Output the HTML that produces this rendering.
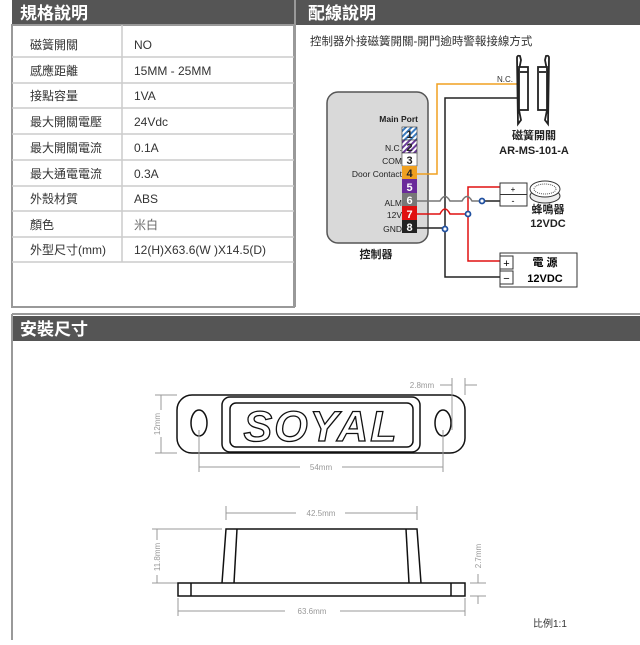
<!DOCTYPE html>
<html><head><meta charset="utf-8"><style>
body{margin:0;background:#fff;width:640px;height:640px;overflow:hidden}
svg text{font-family:"Liberation Sans","Noto Sans CJK TC",sans-serif}
</style></head><body>
<svg width="640" height="640" viewBox="0 0 640 640" xmlns="http://www.w3.org/2000/svg">
<defs>
<pattern id="hb" width="4" height="4" patternUnits="userSpaceOnUse" patternTransform="rotate(45)"><rect width="4" height="4" fill="#fff"/><rect width="2" height="4" fill="#3a7bbf"/></pattern>
<pattern id="hp" width="4" height="4" patternUnits="userSpaceOnUse" patternTransform="rotate(45)"><rect width="4" height="4" fill="#fff"/><rect width="2" height="4" fill="#6a3a9a"/></pattern>
</defs>
<rect x="12" y="0" width="628" height="25" fill="#555"/>
<rect x="294" y="0" width="2" height="25" fill="#999"/>
<text x="20" y="19" font-size="17" fill="#fff" font-weight="bold">規格說明</text>
<text x="308" y="19" font-size="17" fill="#fff" font-weight="bold">配線說明</text>
<rect x="12" y="25" width="282" height="282" fill="none" stroke="#999" stroke-width="2"/>
<line x1="295" y1="25" x2="295" y2="307" stroke="#999" stroke-width="2"/>
<g stroke="#ccc" stroke-width="1.5">
<line x1="12" y1="57" x2="294" y2="57"/><line x1="12" y1="83" x2="294" y2="83"/>
<line x1="12" y1="108" x2="294" y2="108"/><line x1="12" y1="134" x2="294" y2="134"/>
<line x1="12" y1="160" x2="294" y2="160"/><line x1="12" y1="186" x2="294" y2="186"/>
<line x1="12" y1="211" x2="294" y2="211"/><line x1="12" y1="237" x2="294" y2="237"/>
<line x1="12" y1="262" x2="294" y2="262"/>
<line x1="122" y1="25" x2="122" y2="262"/>
</g>
<g font-size="12" fill="#333">
<text x="30" y="49">磁簧開關</text><text x="134" y="49">NO</text>
<text x="30" y="75">感應距離</text><text x="134" y="75">15MM -  25MM</text>
<text x="30" y="100">接點容量</text><text x="134" y="100">1VA</text>
<text x="30" y="126">最大開關電壓</text><text x="134" y="126">24Vdc</text>
<text x="30" y="152">最大開關電流</text><text x="134" y="152">0.1A</text>
<text x="30" y="178">最大通電電流</text><text x="134" y="178">0.3A</text>
<text x="30" y="203">外殼材質</text><text x="134" y="203">ABS</text>
<text x="30" y="229">顏色</text><text x="134" y="229" fill="#666">米白</text>
<text x="30" y="254">外型尺寸(mm)</text><text x="134" y="254">12(H)X63.6(W )X14.5(D)</text>
</g>
<text x="310" y="45" font-size="11.5" fill="#333">控制器外接磁簧開關-開門逾時警報接線方式</text>
<rect x="327" y="92" width="101" height="151" rx="11" fill="#d9d9d9" stroke="#555" stroke-width="1.5"/>
<g font-size="8.5" fill="#222" text-anchor="end">
<text x="418" y="122" font-weight="bold">Main Port</text>
<text x="402" y="151">N.C.</text><text x="402" y="164">COM</text><text x="402" y="177">Door Contact</text>
<text x="402" y="206">ALM</text><text x="402" y="218">12V</text><text x="402" y="232">GND</text>
</g>
<rect x="402" y="127" width="15" height="13" fill="url(#hb)" stroke="#333" stroke-width=".6"/>
<rect x="402" y="140" width="15" height="13" fill="url(#hp)" stroke="#333" stroke-width=".6"/>
<rect x="402" y="153" width="15" height="13" fill="#fff" stroke="#333" stroke-width=".6"/>
<rect x="402" y="166" width="15" height="13" fill="#f0a020"/>
<rect x="402" y="179" width="15" height="14" fill="#6a2a9a"/>
<rect x="402" y="193" width="15" height="13" fill="#777"/>
<rect x="402" y="206" width="15" height="14" fill="#e01010"/>
<rect x="402" y="220" width="15" height="13" fill="#222"/>
<g font-size="11" font-weight="bold" text-anchor="middle">
<text x="409.5" y="138" fill="#222">1</text><text x="409.5" y="151" fill="#222">2</text><text x="409.5" y="164" fill="#222">3</text>
<text x="409.5" y="177" fill="#222">4</text><text x="409.5" y="191" fill="#fff">5</text><text x="409.5" y="204" fill="#fff">6</text>
<text x="409.5" y="218" fill="#fff">7</text><text x="409.5" y="231" fill="#fff">8</text>
</g>
<text x="376" y="258" font-size="11" font-weight="bold" fill="#222" text-anchor="middle">控制器</text>
<polyline points="417,174 437,174 437,84 517,84" fill="none" stroke="#f0a020" stroke-width="1.5"/>
<polyline points="517,98 445,98 445,277 500,277" fill="none" stroke="#222" stroke-width="1.5"/>
<line x1="417" y1="228" x2="445" y2="228" stroke="#222" stroke-width="1.5"/>
<path d="M417,214 L440,214 Q445,204 450,214 L468,214" fill="none" stroke="#e01010" stroke-width="1.5"/>
<polyline points="500,187 468,187 468,261 500,261" fill="none" stroke="#e01010" stroke-width="1.5"/>
<path d="M417,201 L440,201 Q445,192 450,201 L462,201 Q467,192 472,201 L482,201" fill="none" stroke="#777" stroke-width="1.5"/>
<line x1="482" y1="201" x2="500" y2="201" stroke="#222" stroke-width="1.5"/>
<g fill="#fff" stroke="#2050a0" stroke-width="1.8">
<circle cx="445" cy="229" r="2.5"/><circle cx="468" cy="214" r="2.5"/><circle cx="482" cy="201" r="2.5"/></g>
<rect x="500" y="183" width="27" height="23" fill="#fff" stroke="#333"/>
<line x1="500" y1="194.5" x2="527" y2="194.5" stroke="#333"/>
<text x="513" y="192" font-size="8" text-anchor="middle">+</text>
<text x="513" y="204" font-size="9" text-anchor="middle">-</text>
<ellipse cx="545" cy="196" rx="15" ry="7" fill="#eee" stroke="#333"/>
<ellipse cx="545" cy="189" rx="15" ry="8" fill="#fff" stroke="#333"/>
<ellipse cx="545" cy="189" rx="11" ry="5" fill="none" stroke="#555" stroke-dasharray="1 1"/>
<text x="548" y="213" font-size="11" font-weight="bold" fill="#222" text-anchor="middle">蜂鳴器</text>
<text x="548" y="227" font-size="11" font-weight="bold" fill="#222" text-anchor="middle">12VDC</text>
<rect x="500" y="253" width="77" height="34" fill="#fff" stroke="#333"/>
<rect x="500" y="256" width="13" height="13" fill="#fff" stroke="#333"/>
<rect x="500" y="271" width="13" height="13" fill="#fff" stroke="#333"/>
<text x="506.5" y="267" font-size="11" text-anchor="middle">+</text>
<text x="506.5" y="282" font-size="11" text-anchor="middle">−</text>
<text x="545" y="266" font-size="11" font-weight="bold" text-anchor="middle">電  源</text>
<text x="545" y="282" font-size="11" font-weight="bold" text-anchor="middle">12VDC</text>
<text x="497" y="82" font-size="8" fill="#333">N.C.</text>
<g fill="#fff" stroke="#222" stroke-width="1.8">
<path d="M517,58 Q517,55 520,56 L521,60 L519,70 L519,110 L521,120 L518,124 Z"/>
<rect x="519" y="67" width="9" height="43"/>
<path d="M549,58 Q549,55 546,56 L545,60 L547,70 L547,110 L545,120 L548,124 Z"/>
<rect x="538" y="67" width="9" height="43"/>
<line x1="520" y1="72" x2="528" y2="72"/><line x1="539" y1="72" x2="546" y2="72"/>
</g>
<text x="534" y="139" font-size="11" font-weight="bold" fill="#222" text-anchor="middle">磁簧開關</text>
<text x="534" y="154" font-size="11" font-weight="bold" fill="#222" text-anchor="middle">AR-MS-101-A</text>
<line x1="12" y1="314" x2="640" y2="314" stroke="#999" stroke-width="2"/>
<rect x="12" y="316" width="628" height="25" fill="#555"/>
<line x1="12" y1="314" x2="12" y2="640" stroke="#999" stroke-width="2"/>
<text x="20" y="335" font-size="17" fill="#fff" font-weight="bold">安裝尺寸</text>
<g fill="none" stroke="#111" stroke-width="1.5">
<rect x="177" y="395" width="288" height="58" rx="15"/>
<ellipse cx="199" cy="423" rx="8" ry="13"/><ellipse cx="443" cy="423" rx="8" ry="13"/>
<rect x="222" y="397" width="198" height="55" rx="8"/>
<rect x="230" y="403" width="183" height="44" rx="6"/>
</g>
<text x="321" y="441" font-size="43" font-style="italic" font-weight="bold" fill="#fff" stroke="#111" stroke-width="1.3" text-anchor="middle" letter-spacing="2">SOYAL</text>
<g stroke="#999" stroke-width="1" fill="none">
<line x1="155" y1="395" x2="177" y2="395"/><line x1="155" y1="453" x2="177" y2="453"/>
<line x1="161" y1="395" x2="161" y2="410"/><line x1="161" y1="437" x2="161" y2="453"/>
<line x1="199" y1="430" x2="199" y2="472"/><line x1="443" y1="430" x2="443" y2="472"/>
<line x1="199" y1="467" x2="300" y2="467"/><line x1="342" y1="467" x2="443" y2="467"/>
<line x1="452" y1="378" x2="452" y2="430"/><line x1="465" y1="378" x2="465" y2="395"/>
<line x1="440" y1="385" x2="452" y2="385"/><line x1="465" y1="385" x2="477" y2="385"/>
<line x1="226" y1="506" x2="226" y2="520"/><line x1="417" y1="506" x2="417" y2="520"/>
<line x1="226" y1="513" x2="296" y2="513"/><line x1="345" y1="513" x2="417" y2="513"/>
<line x1="152" y1="529" x2="222" y2="529"/><line x1="152" y1="583" x2="178" y2="583"/>
<line x1="157" y1="529" x2="157" y2="540"/><line x1="157" y1="575" x2="157" y2="583"/>
<line x1="178" y1="598" x2="178" y2="616"/><line x1="465" y1="598" x2="465" y2="616"/>
<line x1="178" y1="611" x2="285" y2="611"/><line x1="340" y1="611" x2="465" y2="611"/>
<line x1="470" y1="583" x2="486" y2="583"/><line x1="470" y1="596" x2="486" y2="596"/>
<line x1="478" y1="574" x2="478" y2="583"/><line x1="478" y1="596" x2="478" y2="604"/>
</g>
<g font-size="8" fill="#999" text-anchor="middle">
<text x="160" y="424" transform="rotate(-90 160 424)">12mm</text>
<text x="321" y="470">54mm</text>
<text x="422" y="388">2.8mm</text>
<text x="321" y="516">42.5mm</text>
<text x="160" y="557" transform="rotate(-90 160 557)">11.8mm</text>
<text x="312" y="614">63.6mm</text>
<text x="481" y="556" transform="rotate(-90 481 556)">2.7mm</text>
</g>
<g fill="none" stroke="#111" stroke-width="1.5">
<polyline points="222,583 226,529 417,529 421,583"/>
<polyline points="234,583 237,529"/><polyline points="406,529 409,583"/>
<rect x="178" y="583" width="287" height="13"/>
<line x1="191" y1="583" x2="191" y2="596"/><line x1="451" y1="583" x2="451" y2="596"/>
</g>
<text x="533" y="627" font-size="10" fill="#333">比例1:1</text>
</svg>
</body></html>
